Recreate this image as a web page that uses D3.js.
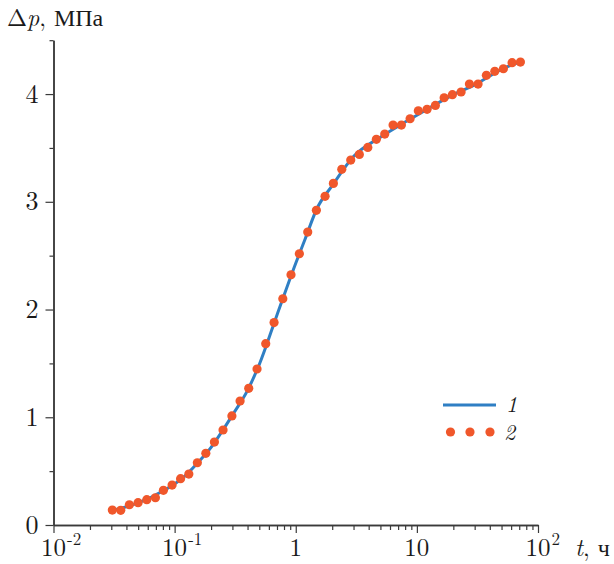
<!DOCTYPE html>
<html>
<head>
<meta charset="utf-8">
<script src="https://cdn.jsdelivr.net/npm/d3@7"></script>
<style>
  html, body { margin: 0; padding: 0; background: #fff; }
  svg { display: block; }
</style>
</head>
<body>
<svg id="chart" width="614" height="564"></svg>
<script>
// ---- data ----
// series 2: measured points (t in hours, Δp in MPa)
const pointT = [0.0306, 0.0359, 0.0423, 0.0499, 0.0589, 0.0694, 0.0808, 0.0953, 0.112, 0.131,
  0.154, 0.181, 0.213, 0.251, 0.297, 0.347, 0.409, 0.479, 0.565, 0.662,
  0.782, 0.914, 1.071, 1.256, 1.48, 1.746, 2.045, 2.399, 2.845, 3.35,
  3.935, 4.63, 5.43, 6.36, 7.45, 8.79, 10.28, 12.14, 14.22, 16.79,
  19.64, 23.17, 27.16, 32.0, 37.5, 44.0, 51.8, 61.1, 71.6];
const pointP = [0.139, 0.136, 0.188, 0.207, 0.235, 0.253, 0.322, 0.371, 0.430, 0.473,
  0.578, 0.665, 0.770, 0.882, 1.012, 1.151, 1.269, 1.448, 1.683, 1.879,
  2.100, 2.323, 2.518, 2.719, 2.921, 3.051, 3.171, 3.301, 3.387, 3.440,
  3.505, 3.580, 3.629, 3.712, 3.712, 3.771, 3.845, 3.858, 3.895, 3.966,
  3.994, 4.019, 4.093, 4.093, 4.174, 4.211, 4.235, 4.291, 4.297];
// series 1: model curve
const lineT = [0.0306, 0.05, 0.08, 0.12, 0.15, 0.2, 0.25, 0.3, 0.4, 0.5, 0.7, 1.0, 1.2, 1.5, 2.0, 3.0, 5.0, 8.0, 12, 20, 30, 50, 71.6];
const lineP = [0.135, 0.205, 0.315, 0.45, 0.56, 0.72, 0.88, 1.02, 1.25, 1.49, 1.95, 2.43, 2.66, 2.94, 3.15, 3.42, 3.60, 3.74, 3.855, 3.995, 4.085, 4.23, 4.30];

const xTickValues = [0.01, 0.1, 1, 10, 100];
const xTickBase = ["10", "10", "1", "10", "10"];
const xTickExp = ["-2", "-1", "", "", "2"];
const yTickValues = [0, 1, 2, 3, 4];
const yTickLabels = ["0", "1", "2", "3", "4"];
const yMinorValues = [0.5, 1.5, 2.5, 3.5, 4.5];
const legendLabels = ["1", "2"];

// ---- layout ----
const FONT = "Latin Modern Roman, Liberation Serif, serif";
const svg = d3.select("#chart").attr("font-family", FONT);
const x = d3.scaleLog().domain([0.01, 100]).range([53.5, 538]);
const y = d3.scaleLinear().domain([0, 4.5]).range([525, 40.2]);
const axisColor = "#3a3a3a";
const textColor = "#1a1a1a";
const lineColor = "#2f7fc4";
const dotColor = "#f0572b";

function txt(sel) { return sel.append("text").attr("font-family", FONT).attr("fill", textColor); }

// x minor ticks
const xMinor = [];
for (let e = -2; e < 2; e++) for (let m = 2; m <= 9; m++) xMinor.push(m * Math.pow(10, e));

const gx = svg.append("g").attr("transform", `translate(0,${y(0)})`);
gx.call(d3.axisBottom(x).tickValues(xMinor).tickSize(5).tickSizeOuter(0).tickFormat(""));
gx.append("g").call(d3.axisBottom(x).tickValues(xTickValues).tickSize(8).tickSizeOuter(0).tickFormat(""));
gx.selectAll("path.domain").attr("stroke", axisColor).attr("stroke-width", 1.5);
gx.selectAll(".tick line").attr("stroke", axisColor).attr("stroke-width", 1.2);

const gy = svg.append("g").attr("transform", `translate(${x(0.01)},0)`);
gy.call(d3.axisLeft(y).tickValues(yMinorValues).tickSize(4).tickSizeOuter(0).tickFormat(""));
gy.append("g").call(d3.axisLeft(y).tickValues(yTickValues).tickSize(8).tickSizeOuter(0).tickFormat(""));
gy.selectAll("path.domain").attr("stroke", axisColor).attr("stroke-width", 1.5);
gy.selectAll(".tick line").attr("stroke", axisColor).attr("stroke-width", 1.2);

// y tick labels
const yl = svg.append("g");
yTickValues.forEach((v, i) => {
  txt(yl).attr("x", x(0.01) - 15).attr("y", y(v)).attr("dy", "0.33em")
    .attr("text-anchor", "end").attr("font-size", 26).text(yTickLabels[i]);
});

// x tick labels with superscripts
const xl = svg.append("g");
xTickValues.forEach((v, i) => {
  const cx = x(v);
  const t = txt(xl).attr("y", 556).attr("font-size", 25).attr("text-anchor", "middle").attr("x", cx).text(xTickBase[i]);
  if (xTickExp[i]) {
    const w = t.node().getComputedTextLength();
    txt(xl).attr("x", cx + w / 2 + 1).attr("y", 545).attr("font-size", 17).text(xTickExp[i]);
  }
});

// axis titles
const yt = txt(svg).attr("x", 7).attr("y", 26).attr("font-size", 24);
yt.append("tspan").text("Δ");
yt.append("tspan").attr("font-style", "italic").text("p");
yt.append("tspan").text(", МПа");

const xt = txt(svg).attr("x", 575).attr("y", 556).attr("font-size", 24);
xt.append("tspan").attr("font-style", "italic").text("t");
xt.append("tspan").text(", ч");

// ---- series ----
const lineData = lineT.map((t, i) => [t, lineP[i]]);
svg.append("path")
  .datum(lineData)
  .attr("fill", "none")
  .attr("stroke", lineColor)
  .attr("stroke-width", 3)
  .attr("d", d3.line().x(d => x(d[0])).y(d => y(d[1])).curve(d3.curveMonotoneX));

const pts = pointT.map((t, i) => [t, pointP[i]]);
svg.append("g").selectAll("circle").data(pts).join("circle")
  .attr("cx", d => x(d[0]))
  .attr("cy", d => y(d[1]))
  .attr("r", 4.6)
  .attr("fill", dotColor);

// ---- legend ----
const lg = svg.append("g");
lg.append("line").attr("x1", 443).attr("x2", 496).attr("y1", 405).attr("y2", 405)
  .attr("stroke", lineColor).attr("stroke-width", 3);
txt(lg).attr("x", 506).attr("y", 412).attr("font-size", 22).attr("font-style", "italic").text(legendLabels[0]);
lg.selectAll("circle").data([450.5, 470, 490]).join("circle")
  .attr("cx", d => d).attr("cy", 432).attr("r", 4.6).attr("fill", dotColor);
txt(lg).attr("x", 504).attr("y", 440).attr("font-size", 22).attr("font-style", "italic").text(legendLabels[1]);
</script>
</body>
</html>
